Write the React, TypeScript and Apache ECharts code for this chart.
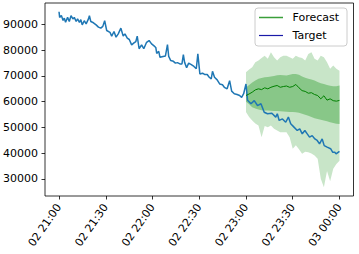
import React, { useEffect, useRef } from "react";
import * as echarts from "echarts";

const BASE = Date.UTC(2023, 0, 2, 21, 0, 0);
const MINUTE = 60000;

// Target series: minutes after 02 21:00 and values
const targetMin = [
  0, 0.4, 1.5, 2.6, 3.4, 4.2, 5.5, 6.6, 7.7, 8.9, 9.8, 11.0, 11.9, 13.1, 14.0, 14.9, 16.2, 17.4, 18.9, 19.5,
  20.4, 22.1, 23.8, 25.3, 26.8, 28.1, 29.3, 30.6, 32.7, 33.8, 35.3, 36.6, 38.0, 39.7, 41.2, 42.3, 43.8, 45.1,
  46.6, 48.1, 49.3, 50.2, 51.4, 53.0, 54.4, 56.2, 57.8, 59.4, 60.8, 62.1, 62.7, 64.0, 64.8, 66.8, 68.3, 69.6,
  70.4, 71.7, 73.4, 74.7, 76.0, 77.6, 78.9, 79.8, 80.6, 81.9, 83.2, 84.9, 86.6, 88.1, 89.1, 90.4, 92.1, 93.4,
  95.1, 96.4, 97.7, 98.5, 99.8, 101.5, 103.1, 104.9, 106.1, 107.9, 109.5, 110.8, 112.5, 114.3, 115.9, 117.2,
  118.5, 120.0, 121.0, 123.2, 125.3, 127.4, 129.6, 131.7, 133.8, 136.6, 139.1, 140.1, 141.3, 143.4, 145.5,
  147.2, 148.7, 150.8, 152.9, 154.5, 156.1, 157.8, 159.3, 160.8, 162.5, 164.2, 165.7, 167.2, 168.9, 170.2,
  172.1, 174.3, 175.7, 177.0, 177.8, 180.0,
];
const targetVal = [
  95000, 92800, 93500, 91600, 92500, 90900, 92800, 91200, 93500, 92200, 92800, 91200, 92200, 90900, 91900, 89900, 91500, 90300, 92200, 93500,
  91200, 90700, 89900, 89000, 88600, 89300, 91500, 87700, 87000, 85500, 87300, 85100, 86400, 88600, 85500, 86400, 84700, 84200,
  82100, 82900, 83400, 85500, 80600, 82100, 80600, 83100, 83800, 82500, 81800, 81100, 78800, 79600, 77300, 77600, 77800, 82200,
  77600, 76000, 75700, 75000, 75200, 74700, 74700, 78300, 75300, 73200, 75000, 74400, 73700, 72800, 78600, 70800, 71100, 70600,
  70600, 69500, 68900, 71800, 69500, 68500, 66900, 66600, 65600, 65000, 68200, 64100, 63100, 62800, 62400, 61700,
  63100, 66900, 60600, 59200, 60400, 58500, 59200, 55900, 55300, 55500, 54000, 55300, 52700, 53300, 52000,
  54000, 51400, 50100, 48800, 49400, 47500, 48800, 47500, 46200, 46800, 45500, 44900, 43600, 45500, 42900,
  42300, 41700, 40300, 40300, 39700, 40700,
];

// Forecast: minutes after 02 21:00
const fcMin = [
  120, 122, 124, 126, 128, 130, 132, 134, 136, 138, 140, 142, 144, 146, 148, 150,
  152, 154, 156, 158, 160, 162, 164, 166, 168, 170, 172, 174, 176, 178, 180,
];
const fcMedian = [
  62400, 63000, 63700, 64600, 65000, 64700, 65400, 65000, 65600, 66000, 66300, 65600, 65900, 66100, 65600, 65900,
  66700, 65400, 64300, 64000, 63300, 63500, 62800, 62400, 61100, 62300, 60600, 61100, 60400, 60200, 60500,
];
const fcHi90 = [
  71500, 72500, 73400, 75300, 76000, 77000, 77900, 76700, 79200, 77300, 76000, 77300, 77900, 77900, 77300, 76700,
  77900, 77300, 77000, 76000, 78600, 79200, 76700, 76000, 77900, 77300, 75300, 72800, 74100, 72800, 72000,
];
const fcLo90 = [
  56000, 54000, 52700, 51500, 50700, 46200, 50500, 50100, 50700, 49500, 48800, 48100, 48100, 48100, 46200, 41700,
  43000, 41500, 39700, 40500, 40300, 39800, 39100, 37800, 30000, 26700, 33000, 29000, 33900, 35800, 37000,
];
const fcHi50 = [
  65500, 66500, 67500, 68200, 68900, 69200, 69500, 69600, 69800, 70000, 70300, 70400, 70300, 70200, 70500, 70800,
  70800, 70500, 69800, 69300, 68900, 68600, 68200, 67700, 67200, 66900, 66500, 66200, 66000, 66000, 66300,
];
const fcLo50 = [
  60000, 59000, 57800, 57300, 57000, 56700, 56600, 56600, 56500, 56400, 56400, 56300, 56200, 56100, 56000, 56000,
  55900, 55700, 55300, 54900, 54500, 54000, 53600, 53300, 53000, 52700, 52400, 52000, 51700, 51400, 51300,
];

const yTicks = [30000, 40000, 50000, 60000, 70000, 80000, 90000];
const xTickMin = [0, 30, 60, 90, 120, 150, 180];
const legendLabels = ["Forecast", "Target"];

const FONT = "DejaVu Sans";
const t = (m: number) => BASE + m * MINUTE;
const pad = (n: number) => (n < 10 ? "0" + n : "" + n);

export default function App() {
  const ref = useRef<HTMLDivElement>(null);
  useEffect(() => {
    if (!ref.current) return;
    const chart = echarts.init(ref.current, undefined, { renderer: "svg" });

    const band = (lo: number[], hi: number[], color: string, z: number) => ({
      type: "custom",
      silent: true,
      z,
      data: [[t(fcMin[0]), lo[0]], [t(fcMin[fcMin.length - 1]), hi[hi.length - 1]]],
      renderItem: (params: any, api: any) => {
        if (params.dataIndex !== 0) return null;
        const pts: number[][] = [];
        for (let i = 0; i < fcMin.length; i++) pts.push(api.coord([t(fcMin[i]), hi[i]]));
        for (let i = fcMin.length - 1; i >= 0; i--) pts.push(api.coord([t(fcMin[i]), lo[i]]));
        return { type: "polygon", shape: { points: pts }, style: { fill: color } };
      },
    });

    chart.setOption({
      animation: false,
      backgroundColor: "#ffffff",
      textStyle: { fontFamily: FONT },
      grid: {
        left: 45,
        right: 5.5,
        top: 3,
        bottom: 58,
        show: true,
        borderColor: "#000",
        borderWidth: 0.8,
        backgroundColor: "transparent",
      },
      xAxis: {
        type: "value",
        min: t(-9),
        max: t(189),
        axisLine: { show: false },
        splitLine: { show: false },
        axisTick: {
          show: true,
          length: 3.5,
          lineStyle: { color: "#000", width: 0.8 },
          customValues: xTickMin.map(t),
        },
        axisLabel: {
          customValues: xTickMin.map(t),
          rotate: 55,
          margin: 9,
          fontSize: 11,
          color: "#000",
          fontFamily: FONT,
          hideOverlap: false,
          formatter: (v: number) => {
            const d = new Date(v);
            return pad(d.getUTCDate()) + " " + pad(d.getUTCHours()) + ":" + pad(d.getUTCMinutes());
          },
        },
      },
      yAxis: {
        type: "value",
        min: 23300,
        max: 98400,
        axisLine: { show: false },
        splitLine: { show: false },
        axisTick: {
          show: true,
          length: 3.5,
          lineStyle: { color: "#000", width: 0.8 },
          customValues: yTicks,
        },
        axisLabel: {
          customValues: yTicks,
          margin: 7,
          fontSize: 11,
          color: "#000",
          fontFamily: FONT,
          formatter: (v: number) => String(v),
        },
      },
      series: [
        band(fcLo90, fcHi90, "#c8e5c8", 1),
        band(fcLo50, fcHi50, "#88c788", 2),
        {
          name: "Target",
          type: "line",
          symbol: "none",
          lineStyle: { color: "#1f77b4", width: 1.5 },
          data: targetMin.map((m, i) => [t(m), targetVal[i]]),
          z: 3,
        },
        {
          name: "Forecast",
          type: "line",
          symbol: "none",
          lineStyle: { color: "#008000", width: 1 },
          data: fcMin.map((m, i) => [t(m), fcMedian[i]]),
          z: 4,
        },
      ],
      graphic: [
        {
          type: "rect",
          shape: { x: 255, y: 8, width: 92, height: 38, r: 3 },
          style: { fill: "rgba(255,255,255,0.8)", stroke: "#cccccc", lineWidth: 1 },
          z: 10,
        },
        {
          type: "line",
          shape: { x1: 259, y1: 17.5, x2: 283, y2: 17.5 },
          style: { stroke: "#3a9f3a", lineWidth: 1.5 },
          z: 11,
        },
        {
          type: "text",
          x: 292.5,
          y: 17.5,
          style: { text: legendLabels[0], fill: "#000", font: `11px '${FONT}'`, verticalAlign: "middle" },
          z: 11,
        },
        {
          type: "line",
          shape: { x1: 259, y1: 35.5, x2: 283, y2: 35.5 },
          style: { stroke: "#1a1aa8", lineWidth: 1.2 },
          z: 11,
        },
        {
          type: "text",
          x: 292.5,
          y: 35.5,
          style: { text: legendLabels[1], fill: "#000", font: `11px '${FONT}'`, verticalAlign: "middle" },
          z: 11,
        },
      ],
    });
    return () => chart.dispose();
  }, []);
  return (
    <div
      ref={ref}
      style={{ position: "fixed", left: 0, top: 0, width: 359, height: 254 }}
    />
  );
}
